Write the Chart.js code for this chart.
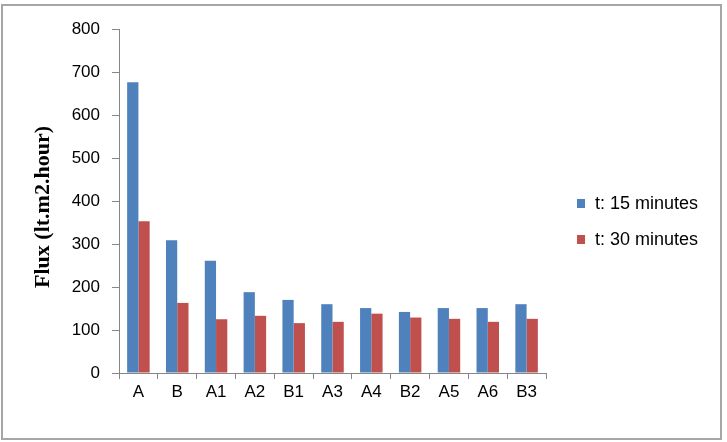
<!DOCTYPE html>
<html>
<head>
<meta charset="utf-8">
<script src="https://cdn.jsdelivr.net/npm/chart.js@4/dist/chart.umd.min.js"></script>
<style>
  html, body { margin: 0; padding: 0; background: #fff; }
  #frame {
    position: absolute; left: 1px; top: 4px;
    width: 717px; height: 432px;
    border: 2px solid #a6a6a6;
  }
  canvas { display: block; }
</style>
</head>
<body>
<div id="frame"><canvas id="flux-chart" width="717" height="432"></canvas></div>
<script>
const categories = ['A', 'B', 'A1', 'A2', 'B1', 'A3', 'A4', 'B2', 'A5', 'A6', 'B3'];
const flux15 = [676, 309, 261, 188, 170, 160, 151, 142, 151, 151, 160];
const flux30 = [353, 163, 125, 133, 116, 119, 138, 129, 126, 119, 126];
const seriesNames = ['t: 15 minutes', 't: 30 minutes'];
const seriesColors = ['#4F81BD', '#C0504D'];
const yTitle = 'Flux (lt.m2.hour)';

const axisColor = '#868686';
const tickFont = { family: "'Liberation Sans', Arial, sans-serif", size: 17 };

// draws the y title and the legend at the spots Excel put them
const extrasPlugin = {
  id: 'extras',
  afterDraw(chart) {
    const ctx = chart.ctx;
    ctx.save();
    ctx.fillStyle = '#000';
    ctx.font = "bold 22px 'Liberation Serif', 'Times New Roman', serif";
    ctx.textAlign = 'center';
    ctx.textBaseline = 'middle';
    ctx.translate(40, 201);
    ctx.rotate(-Math.PI / 2);
    ctx.fillText(yTitle, 0, 0);
    ctx.restore();

    ctx.save();
    ctx.font = "18px 'Liberation Sans', Arial, sans-serif";
    ctx.textBaseline = 'middle';
    ctx.textAlign = 'left';
    chart.data.datasets.forEach((ds, i) => {
      const y = 198 + i * 36;
      ctx.fillStyle = ds.backgroundColor;
      ctx.fillRect(574, y - 5, 8, 9);
      ctx.fillStyle = '#000';
      ctx.fillText(ds.label, 592, y);
    });
    ctx.restore();
  }
};

const ctx = document.getElementById('flux-chart').getContext('2d');
const fluxChart = new Chart(ctx, {
  type: 'bar',
  data: {
    labels: categories,
    datasets: [
      { label: seriesNames[0], data: flux15, backgroundColor: seriesColors[0] },
      { label: seriesNames[1], data: flux30, backgroundColor: seriesColors[1] }
    ]
  },
  options: {
    responsive: false,
    animation: false,
    layout: { padding: { left: 0, right: 174, top: 23, bottom: 0 } },
    datasets: { bar: { categoryPercentage: 0.58, barPercentage: 1 } },
    plugins: {
      legend: { display: false },
      tooltip: { enabled: false }
    },
    scales: {
      x: {
        grid: { offset: true, drawOnChartArea: false, color: axisColor, tickLength: 6 },
        border: { color: axisColor },
        ticks: { color: '#000', font: tickFont, padding: 3, maxRotation: 0 },
        afterFit(scale) { scale.height = 65; }
      },
      y: {
        min: 0,
        max: 800,
        grid: { drawOnChartArea: false, color: axisColor, tickLength: 7 },
        border: { color: axisColor },
        ticks: { stepSize: 100, color: '#000', font: tickFont, padding: 12 },
        afterFit(scale) { scale.width = 116; }
      }
    }
  },
  plugins: [extrasPlugin]
});
</script>
</body>
</html>
